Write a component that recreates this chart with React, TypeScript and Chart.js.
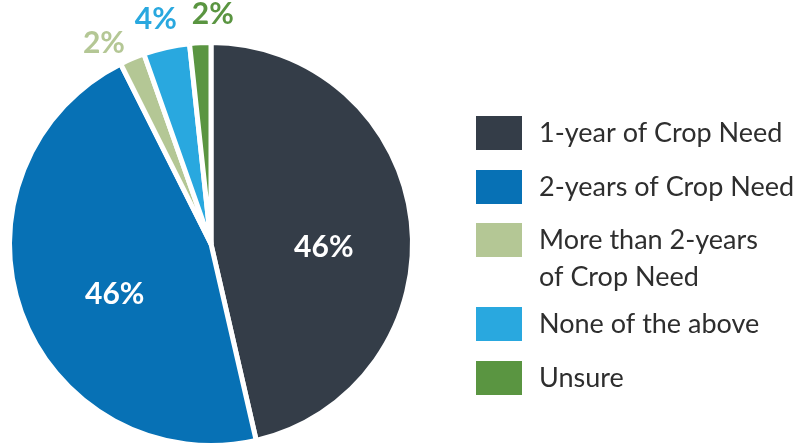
import React, { useEffect, useRef } from "react";
import { Chart, registerables } from "chart.js";

Chart.register(...registerables);

const categories: string[][] = [
  ["1-year of Crop Need"],
  ["2-years of Crop Need"],
  ["More than 2-years", "of Crop Need"],
  ["None of the above"],
  ["Unsure"],
];
const values: number[] = [46.4, 46.2, 2.0, 3.7, 1.7];
const colors: string[] = ["#343d48", "#0771b5", "#b4c795", "#29a8df", "#5a9541"];
const labelInside: boolean[] = [true, true, false, false, false];

const FONT = "Lato, 'Open Sans', sans-serif";
// label placement tweaks (style only): angular nudge in degrees and radial factor
const labelNudgeDeg = [8, -8, -5, -1, 3.5];
const labelRadius = [0.56, 0.54, 1.13, 1.15, 1.14];

const labelsPlugin = {
  id: "sliceLabels",
  afterDatasetsDraw(chart: any) {
    const ctx = chart.ctx;
    const meta = chart.getDatasetMeta(0);
    ctx.save();
    ctx.textAlign = "center";
    ctx.textBaseline = "middle";
    meta.data.forEach((arc: any, i: number) => {
      const { x, y, startAngle, endAngle, outerRadius } = arc.getProps(
        ["x", "y", "startAngle", "endAngle", "outerRadius"],
        true
      );
      const mid = (startAngle + endAngle) / 2 + (labelNudgeDeg[i] * Math.PI) / 180;
      const r = outerRadius * labelRadius[i];
      const tx = x + Math.cos(mid) * r;
      const ty = y + Math.sin(mid) * r;
      ctx.font = `bold 30px ${FONT}`;
      ctx.fillStyle = labelInside[i] ? "#ffffff" : colors[i];
      ctx.fillText(Math.round(values[i]) + "%", tx, ty);
    });
    ctx.restore();
  },
};

const legendPlugin = {
  id: "customLegend",
  afterDraw(chart: any) {
    const ctx = chart.ctx;
    const rowCenters = [133, 187, 240, 324, 378];
    ctx.save();
    categories.forEach((lines, i) => {
      const cy = rowCenters[i];
      ctx.fillStyle = colors[i];
      ctx.fillRect(476, cy - 17, 46, 34);
      ctx.fillStyle = "#2e2e2e";
      ctx.font = `27px ${FONT}`;
      ctx.textAlign = "left";
      ctx.textBaseline = "middle";
      lines.forEach((line, j) => {
        ctx.fillText(line, 539, cy + j * 37);
      });
    });
    ctx.restore();
  },
};

export default function App() {
  const ref = useRef<HTMLCanvasElement>(null);
  useEffect(() => {
    document.body.style.margin = "0";
    const chart = new Chart(ref.current!, {
      type: "pie",
      data: {
        labels: categories.map((c) => c.join(" ")),
        datasets: [
          {
            data: values,
            backgroundColor: colors,
            borderColor: "#ffffff",
            borderWidth: 5,
          },
        ],
      },
      options: {
        animation: false,
        responsive: false,
        layout: { padding: { left: 7, right: 390, top: 40, bottom: 12 } },
        plugins: {
          legend: { display: false },
          tooltip: { enabled: false },
        },
      },
      plugins: [labelsPlugin, legendPlugin],
    });
    return () => chart.destroy();
  }, []);
  return (
    <div style={{ width: 805, height: 444, overflow: "hidden" }}>
      <canvas ref={ref} width={805} height={460} />
    </div>
  );
}
